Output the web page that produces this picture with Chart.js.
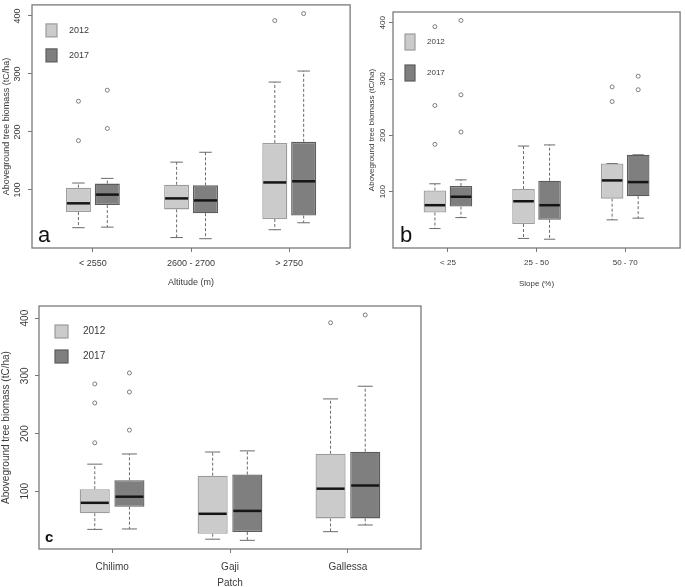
<!DOCTYPE html>
<html>
<head>
<meta charset="utf-8">
<script src="https://cdn.jsdelivr.net/npm/chart.js@4/dist/chart.umd.min.js"></script>
<style>
  html, body { margin: 0; padding: 0; background: #fff; overflow: hidden; }
  body { width: 685px; height: 587px; position: relative; }
  .panel { position: absolute; }
</style>
</head>
<body>
<div class="panel" style="left:0;top:0"><canvas id="chart-a" width="355" height="296"></canvas></div>
<div class="panel" style="left:360px;top:0"><canvas id="chart-b" width="325" height="296"></canvas></div>
<div class="panel" style="left:0;top:290px"><canvas id="chart-c" width="430" height="299"></canvas></div>
<script>
// five-number summaries per box: [lower whisker, Q1, median, Q3, upper whisker]
const years = ['2012', '2017'];
const yTicks = [100, 200, 300, 400];

const altitudeCats = ['< 2550', '2600 - 2700', '> 2750'];
const altitude2012 = [[35, 62, 77, 104, 112], [18, 66.5, 85.5, 109, 148], [31.5, 50, 113, 181, 286]];
const altitude2017 = [[36, 74, 92, 111, 120], [16, 60, 82, 108, 165], [43.5, 56, 115, 183, 305]];
const altitudeOut2012 = [[185, 253], [], [392]];
const altitudeOut2017 = [[206, 272], [], [404]];

const slopeCats = ['< 25', '25 - 50', '50 - 70'];
const slope2012 = [[34.5, 63, 76, 102, 114], [17, 42.6, 83, 104.6, 181], [50, 87.6, 120, 150, 150]];
const slope2017 = [[54, 73.5, 91, 110, 121], [15.6, 50, 76, 119.5, 183], [53, 92, 117, 165.5, 165.5]];
const slopeOut2012 = [[184, 253, 393], [], [260, 286]];
const slopeOut2017 = [[206, 272, 404], [], [281, 305]];

const patchCats = ['Chilimo', 'Gaji', 'Gallessa'];
const patch2012 = [[34, 62, 80, 103.5, 147], [17, 26.5, 61, 127, 168], [30, 53, 104.5, 165, 260]];
const patch2017 = [[34.7, 73.3, 90.6, 119, 164.6], [15, 29.5, 66, 129, 170], [41.6, 53, 110, 168.6, 282]];
const patchOut2012 = [[184, 253, 286], [], [392]];
const patchOut2017 = [[206, 272, 305], [], [405.5]];

const LIGHT = '#cbcbcb', LIGHT_EDGE = '#9c9c9c';
const DARK = '#7f7f7f', DARK_EDGE = '#5c5c5c';
const TEXT = '#3a3a3a';
const OFF = 0.147;
const NARROW = "'Liberation Sans Narrow', 'Liberation Sans', Arial, sans-serif";
const SANS = "'Liberation Sans', Arial, sans-serif";

function boxData(stats, off) {
    return stats.map((s, i) => ({ x: i + 1 + off, y: [s[1], s[3]] }));
}
function outData(outs, off) {
    const pts = [];
    outs.forEach((list, i) => list.forEach(v => pts.push({ x: i + 1 + off, y: v })));
    return pts;
}

// whiskers, medians, frame, rotated y labels, legend and panel letter
const boxPlugin = {
    id: 'boxDecor',
    beforeDatasetsDraw(chart) {
        const ctx = chart.ctx, y = chart.scales.y;
        chart.data.datasets.forEach((ds, di) => {
            if (!ds.stats) return;
            chart.getDatasetMeta(di).data.forEach((bar, i) => {
                const s = ds.stats[i];
                const half = bar.width / 4;
                ctx.save();
                ctx.strokeStyle = '#6a6a6a';
                ctx.lineWidth = 1;
                ctx.setLineDash([3, 2]);
                ctx.beginPath();
                ctx.moveTo(bar.x, y.getPixelForValue(s[3]));
                ctx.lineTo(bar.x, y.getPixelForValue(s[4]));
                ctx.moveTo(bar.x, y.getPixelForValue(s[1]));
                ctx.lineTo(bar.x, y.getPixelForValue(s[0]));
                ctx.stroke();
                ctx.setLineDash([]);
                ctx.beginPath();
                [s[0], s[4]].forEach(v => {
                    const py = y.getPixelForValue(v);
                    ctx.moveTo(bar.x - half, py);
                    ctx.lineTo(bar.x + half, py);
                });
                ctx.stroke();
                ctx.restore();
            });
        });
    },
    afterDatasetsDraw(chart) {
        const ctx = chart.ctx, y = chart.scales.y;
        chart.data.datasets.forEach((ds, di) => {
            if (!ds.stats) return;
            chart.getDatasetMeta(di).data.forEach((bar, i) => {
                const py = y.getPixelForValue(ds.stats[i][2]);
                ctx.save();
                ctx.strokeStyle = '#151515';
                ctx.lineWidth = 2.5;
                ctx.beginPath();
                ctx.moveTo(bar.x - bar.width / 2 + 1, py);
                ctx.lineTo(bar.x + bar.width / 2 - 1, py);
                ctx.stroke();
                ctx.restore();
            });
        });
    },
    afterDraw(chart, args, opts) {
        const ctx = chart.ctx, a = chart.chartArea, y = chart.scales.y;
        ctx.save();
        ctx.strokeStyle = '#7a7a7a';
        ctx.lineWidth = 1.3;
        ctx.strokeRect(a.left, a.top, a.right - a.left, a.bottom - a.top);

        ctx.fillStyle = TEXT;
        ctx.font = opts.tickFont;
        ctx.textAlign = 'center';
        ctx.textBaseline = 'middle';
        y.ticks.forEach(t => {
            ctx.save();
            ctx.translate(a.left - opts.yLabelGap, y.getPixelForValue(t.value));
            ctx.rotate(-Math.PI / 2);
            ctx.fillText(String(t.value), 0, 0);
            ctx.restore();
        });

        const lg = opts.legend;
        ctx.font = opts.legendFont;
        ctx.textAlign = 'left';
        chart.data.datasets.filter(ds => ds.stats).forEach((ds, k) => {
            const sx = a.left + lg.dx, sy = a.top + lg.dy + k * lg.step;
            ctx.fillStyle = ds.backgroundColor;
            ctx.fillRect(sx, sy, lg.w, lg.h);
            ctx.strokeStyle = ds.borderColor;
            ctx.lineWidth = 1.2;
            ctx.strokeRect(sx, sy, lg.w, lg.h);
            ctx.fillStyle = TEXT;
            ctx.fillText(ds.label, a.left + lg.tx, sy + lg.h / 2);
        });

        ctx.fillStyle = '#111';
        ctx.font = opts.letterFont;
        ctx.textBaseline = 'alphabetic';
        ctx.fillText(opts.letter, a.left + opts.letterDx, a.bottom - opts.letterDy);
        ctx.restore();
    }
};

function makePanel(id, cats, s2012, s2017, o2012, o2017, xTitle, look) {
    const tickFont = { family: look.family, size: look.tickSize };
    return new Chart(document.getElementById(id), {
        type: 'bar',
        data: {
            datasets: [
                { type: 'bar', label: years[0], data: boxData(s2012, -OFF), stats: s2012,
                  backgroundColor: LIGHT, borderColor: LIGHT_EDGE, borderWidth: 1.3, borderSkipped: false,
                  grouped: false, categoryPercentage: 1, barPercentage: 0.867 },
                { type: 'bar', label: years[1], data: boxData(s2017, OFF), stats: s2017,
                  backgroundColor: DARK, borderColor: DARK_EDGE, borderWidth: 1.3, borderSkipped: false,
                  grouped: false, categoryPercentage: 1, barPercentage: 0.867 },
                { type: 'scatter', label: years[0] + ' outliers', data: outData(o2012, -OFF),
                  pointRadius: 2, borderWidth: 0.9, borderColor: '#707070', backgroundColor: 'rgba(0,0,0,0)' },
                { type: 'scatter', label: years[1] + ' outliers', data: outData(o2017, OFF),
                  pointRadius: 2, borderWidth: 0.9, borderColor: '#707070', backgroundColor: 'rgba(0,0,0,0)' }
            ]
        },
        options: {
            responsive: false,
            animation: false,
            events: [],
            layout: { padding: look.padding },
            plugins: {
                legend: { display: false },
                tooltip: { enabled: false },
                boxDecor: {
                    tickFont: look.tickSize + 'px ' + look.family,
                    legendFont: look.legendSize + 'px ' + look.family,
                    yLabelGap: look.yLabelGap,
                    legend: look.legend,
                    letter: look.letter,
                    letterFont: look.letterFont,
                    letterDx: look.letterDx,
                    letterDy: look.letterDy
                }
            },
            scales: {
                x: {
                    type: 'linear', min: 0.38, max: 3.62, offset: false,
                    afterBuildTicks: s => { s.ticks = [1, 2, 3].map(v => ({ value: v })); },
                    afterFit: s => { s.height = look.xHeight; },
                    ticks: { callback: v => cats[v - 1], font: tickFont, color: TEXT, padding: look.xTickPad, maxRotation: 0 },
                    grid: { drawOnChartArea: false, offset: false, tickLength: 4, color: '#777' },
                    border: { display: false },
                    title: { display: true, text: xTitle, color: TEXT,
                             font: { family: look.family, size: look.tickSize }, padding: { top: 0, bottom: look.xTitlePad } }
                },
                y: {
                    min: 0, max: look.yMax,
                    afterBuildTicks: s => { s.ticks = yTicks.map(v => ({ value: v })); },
                    afterFit: s => { s.width = look.yWidth; },
                    ticks: { display: false },
                    grid: { drawOnChartArea: false, tickLength: 4, color: '#777' },
                    border: { display: false },
                    title: { display: true, text: 'Aboveground tree biomass (tC/ha)', color: TEXT,
                             font: { family: look.family, size: look.titleSize }, padding: { top: look.yTitlePad, bottom: 0 } }
                }
            }
        },
        plugins: [boxPlugin]
    });
}

makePanel('chart-a', altitudeCats, altitude2012, altitude2017, altitudeOut2012, altitudeOut2017, 'Altitude (m)', {
    family: NARROW, tickSize: 9, titleSize: 9, legendSize: 9,
    padding: { left: 0, top: 1, right: 2, bottom: 0 },
    yWidth: 32, xHeight: 48, xTickPad: 6, xTitlePad: 8, yTitlePad: 1, yMax: 419, yLabelGap: 14,
    legend: { dx: 14, dy: 19, step: 25, w: 11, h: 13, tx: 37 },
    letter: 'a', letterFont: '22px ' + SANS, letterDx: 6, letterDy: 6
});

makePanel('chart-b', slopeCats, slope2012, slope2017, slopeOut2012, slopeOut2017, 'Slope (%)', {
    family: NARROW, tickSize: 8, titleSize: 8, legendSize: 8,
    padding: { left: 0, top: 12, right: 2, bottom: 0 },
    yWidth: 33, xHeight: 48, xTickPad: 6, xTitlePad: 7, yTitlePad: 7, yMax: 419, yLabelGap: 10,
    legend: { dx: 12, dy: 22, step: 31, w: 10, h: 16, tx: 34 },
    letter: 'b', letterFont: '22px ' + SANS, letterDx: 7, letterDy: 6
});

makePanel('chart-c', patchCats, patch2012, patch2017, patchOut2012, patchOut2017, 'Patch', {
    family: SANS, tickSize: 10, titleSize: 10, legendSize: 10,
    padding: { left: 0, top: 16, right: 9, bottom: 0 },
    yWidth: 39, xHeight: 40, xTickPad: 8, xTitlePad: 0, yTitlePad: 0, yMax: 421, yLabelGap: 14,
    legend: { dx: 16, dy: 19, step: 25, w: 13, h: 13, tx: 44 },
    letter: 'c', letterFont: 'bold 15px ' + SANS, letterDx: 6, letterDy: 7
});
</script>
</body>
</html>
